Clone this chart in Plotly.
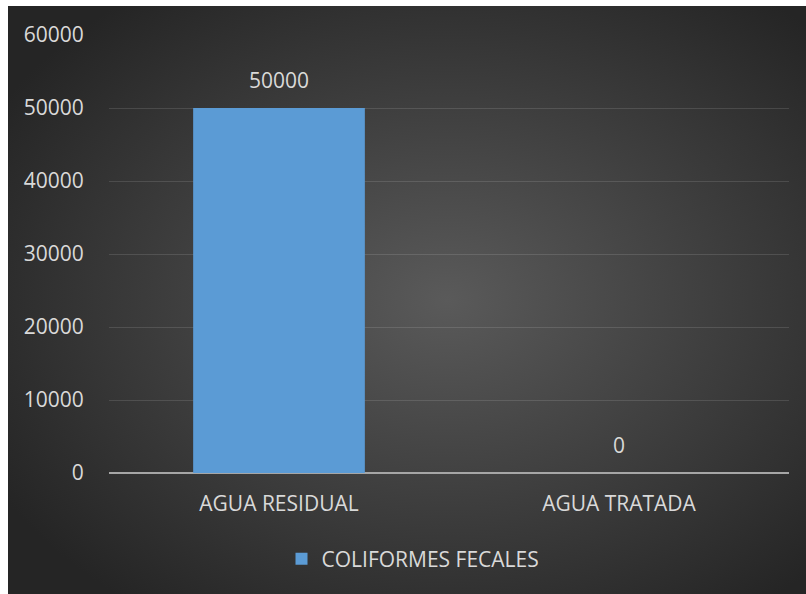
import base64
import plotly.graph_objects as go

categories = ["AGUA RESIDUAL", "AGUA TRATADA"]
values = [50000, 0]
series_name = "COLIFORMES FECALES"
y_ticks = [0, 10000, 20000, 30000, 40000, 50000, 60000]
y_tick_labels = [str(v) for v in y_ticks]

W, H = 806, 594
L, R, T, B = 109, 17, 35, 121
pw, ph = W - L - R, H - T - B

svg = (
    '<svg xmlns="http://www.w3.org/2000/svg" width="798" height="588" viewBox="0 0 798 588" preserveAspectRatio="none">'
    '<defs><radialGradient id="g" cx="55%" cy="50%" r="65%">'
    '<stop offset="0" stop-color="#5a5a5a"/><stop offset="1" stop-color="#252525"/>'
    '</radialGradient></defs><rect width="798" height="588" fill="url(#g)"/></svg>'
)
src = "data:image/svg+xml;base64," + base64.b64encode(svg.encode()).decode()

font = "Open Sans, sans-serif"
txt = "#d9d9d9"
fs = 21

fig = go.Figure()
fig.add_trace(go.Bar(
    x=categories, y=values, name=series_name,
    marker=dict(color="#5b9bd5", line=dict(width=0)),
    cliponaxis=False, showlegend=True,
))

for c, v in zip(categories, values):
    fig.add_annotation(x=c, y=v, text=str(v), showarrow=False,
                       yanchor="bottom", yshift=12,
                       font=dict(color=txt, size=fs, family=font))

fig.update_layout(
    width=W, height=H,
    margin=dict(l=L, r=R, t=T, b=B, autoexpand=False),
    paper_bgcolor="white", plot_bgcolor="rgba(0,0,0,0)",
    bargap=0.495,
    font=dict(family=font, color=txt, size=fs),
    images=[dict(
        source=src, xref="paper", yref="paper",
        x=(8 - L) / pw, y=(T + ph - 6) / ph,
        sizex=(W - 8) / pw, sizey=(H - 6) / ph,
        xanchor="left", yanchor="top", sizing="stretch", layer="below",
    )],
    xaxis=dict(showgrid=False, showline=False, ticks="outside", ticklen=12,
               tickcolor="rgba(0,0,0,0)", tickfont=dict(color=txt, size=fs)),
    yaxis=dict(range=[0, 60000], tickvals=y_ticks, ticktext=y_tick_labels,
               showgrid=True, gridcolor="rgba(255,255,255,0.12)", gridwidth=1,
               zeroline=True, zerolinecolor="#a6a6a6", zerolinewidth=2,
               ticks="outside", ticklen=20, tickcolor="rgba(0,0,0,0)",
               tickfont=dict(color=txt, size=fs)),
    legend=dict(orientation="h", x=(413 - L) / pw, xanchor="center",
                y=(T + ph - 559) / ph, yanchor="middle",
                font=dict(color=txt, size=fs), bgcolor="rgba(0,0,0,0)"),
)

fig.write_html("out.html", config={"displayModeBar": False},
               post_script="document.body.style.margin='0';")
